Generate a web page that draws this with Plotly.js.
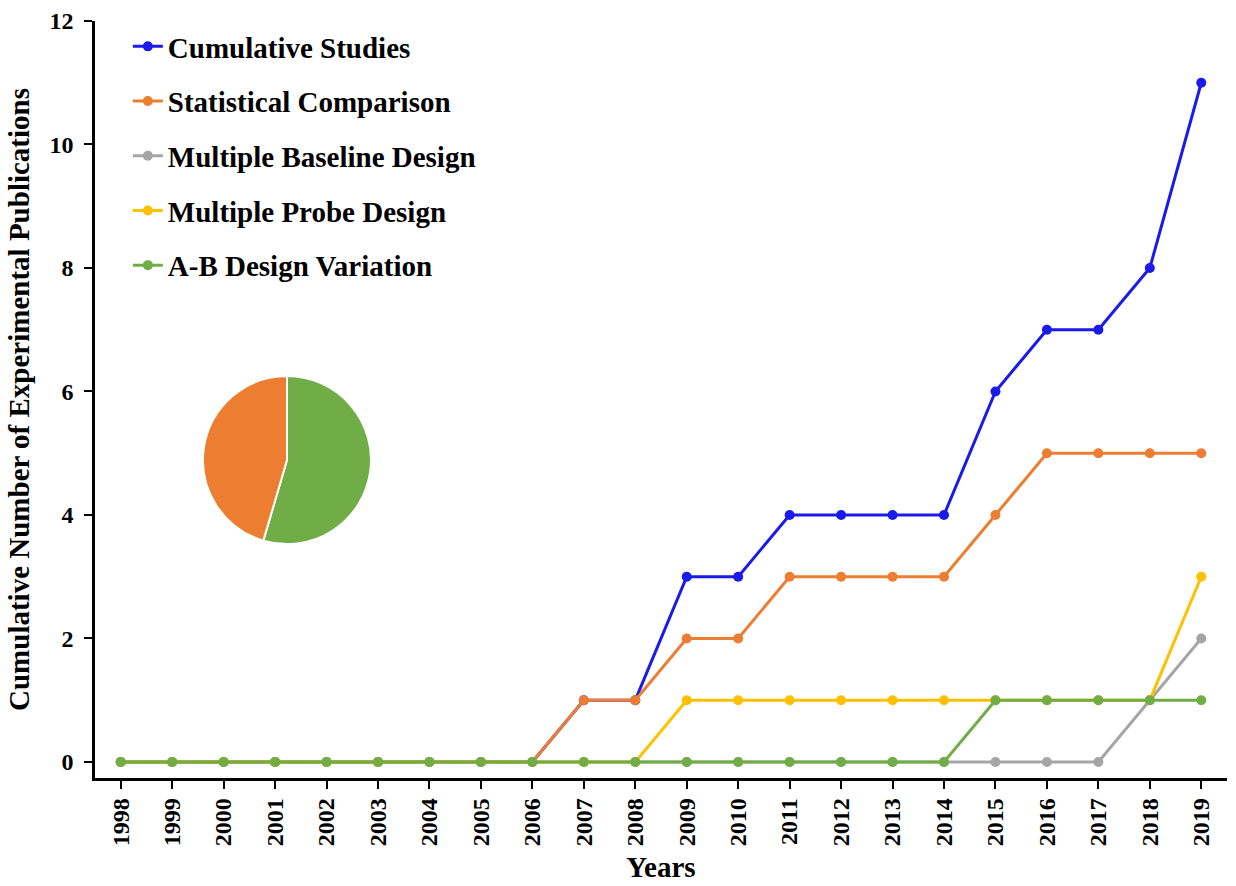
<!DOCTYPE html>
<html>
<head>
<meta charset="utf-8">
<script src="https://cdn.plot.ly/plotly-3.0.1.min.js"></script>
<style>html,body{margin:0;padding:0;background:#fff;}#chart{width:1236px;height:886px;}</style>
</head>
<body>
<div id="chart"></div>
<script>
const years = [1998,1999,2000,2001,2002,2003,2004,2005,2006,2007,2008,2009,2010,2011,2012,2013,2014,2015,2016,2017,2018,2019];
const cumulativeStudies      = [0,0,0,0,0,0,0,0,0,1,1,3,3,4,4,4,4,6,7,7,8,11];
const statisticalComparison  = [0,0,0,0,0,0,0,0,0,1,1,2,2,3,3,3,3,4,5,5,5,5];
const multipleBaseline       = [0,0,0,0,0,0,0,0,0,0,0,0,0,0,0,0,0,0,0,0,1,2];
const multipleProbe          = [0,0,0,0,0,0,0,0,0,0,0,1,1,1,1,1,1,1,1,1,1,3];
const abVariation            = [0,0,0,0,0,0,0,0,0,0,0,0,0,0,0,0,0,1,1,1,1,1];
const seriesNames = ["Cumulative Studies","Statistical Comparison","Multiple Baseline Design","Multiple Probe Design","A-B Design Variation"];
const seriesColors = ["#1a1aeb","#ed7d31","#a5a5a5","#ffc000","#70ad47"];
const pieLabels = ["Single-Case Designs","Statistical Comparison"];
const pieValues = [6,5];
const pieColors = ["#70ad47","#ed7d31"];

const F = "Liberation Serif, Times New Roman, serif";
const allSeries = [cumulativeStudies, statisticalComparison, multipleBaseline, multipleProbe, abVariation];
const traces = allSeries.map((ys, i) => ({
  type: "scatter", mode: "lines+markers", x: years, y: ys, name: seriesNames[i],
  line: {color: seriesColors[i], width: 3}, marker: {color: seriesColors[i], size: 10},
  legendgroup: "g" + i
}));
traces.push({
  type: "pie", labels: pieLabels, values: pieValues, sort: false, direction: "clockwise", rotation: 0,
  marker: {colors: pieColors, line: {color: "#ffffff", width: 2}}, textinfo: "none", hoverinfo: "label+value",
  showlegend: false, domain: {x: [0.0954, 0.2438], y: [0.309, 0.531]}
});

const layout = {
  width: 1236, height: 886,
  margin: {l: 95, r: 9, t: 21, b: 108},
  paper_bgcolor: "#fff", plot_bgcolor: "#fff",
  font: {family: F, color: "#000"},
  showlegend: true,
  legend: {x: 0.029, y: 1.0, xanchor: "left", yanchor: "top", traceorder: "grouped", tracegroupgap: 14,
           font: {family: F, size: 29, color: "#000", weight: "bold"}, bgcolor: "rgba(0,0,0,0)"},
  xaxis: {
    range: [1997.5, 2019.5], tickmode: "array", tickvals: years, ticktext: years.map(String),
    tickangle: -90, ticks: "outside", ticklen: 8, tickwidth: 2, tickcolor: "#000",
    showline: true, linecolor: "#000", linewidth: 2.5, showgrid: false, zeroline: false,
    tickfont: {family: F, size: 24, color: "#000", weight: "bold"},
    title: {text: "Years", font: {family: F, size: 29, color: "#000", weight: "bold"}, standoff: 12}
  },
  yaxis: {
    range: [-0.26, 12], tickmode: "array", tickvals: [0,2,4,6,8,10,12],
    ticks: "outside", ticklen: 8, tickwidth: 2, tickcolor: "#000", ticklabelstandoff: 6,
    showline: true, linecolor: "#000", linewidth: 2.5, showgrid: false, zeroline: false,
    tickfont: {family: F, size: 24, color: "#000", weight: "bold"},
    title: {text: "Cumulative Number of Experimental Publications", font: {family: F, size: 29, color: "#000", weight: "bold"}, standoff: 12}
  }
};
Plotly.newPlot("chart", traces, layout, {displayModeBar: false, responsive: false});
</script>
</body>
</html>
